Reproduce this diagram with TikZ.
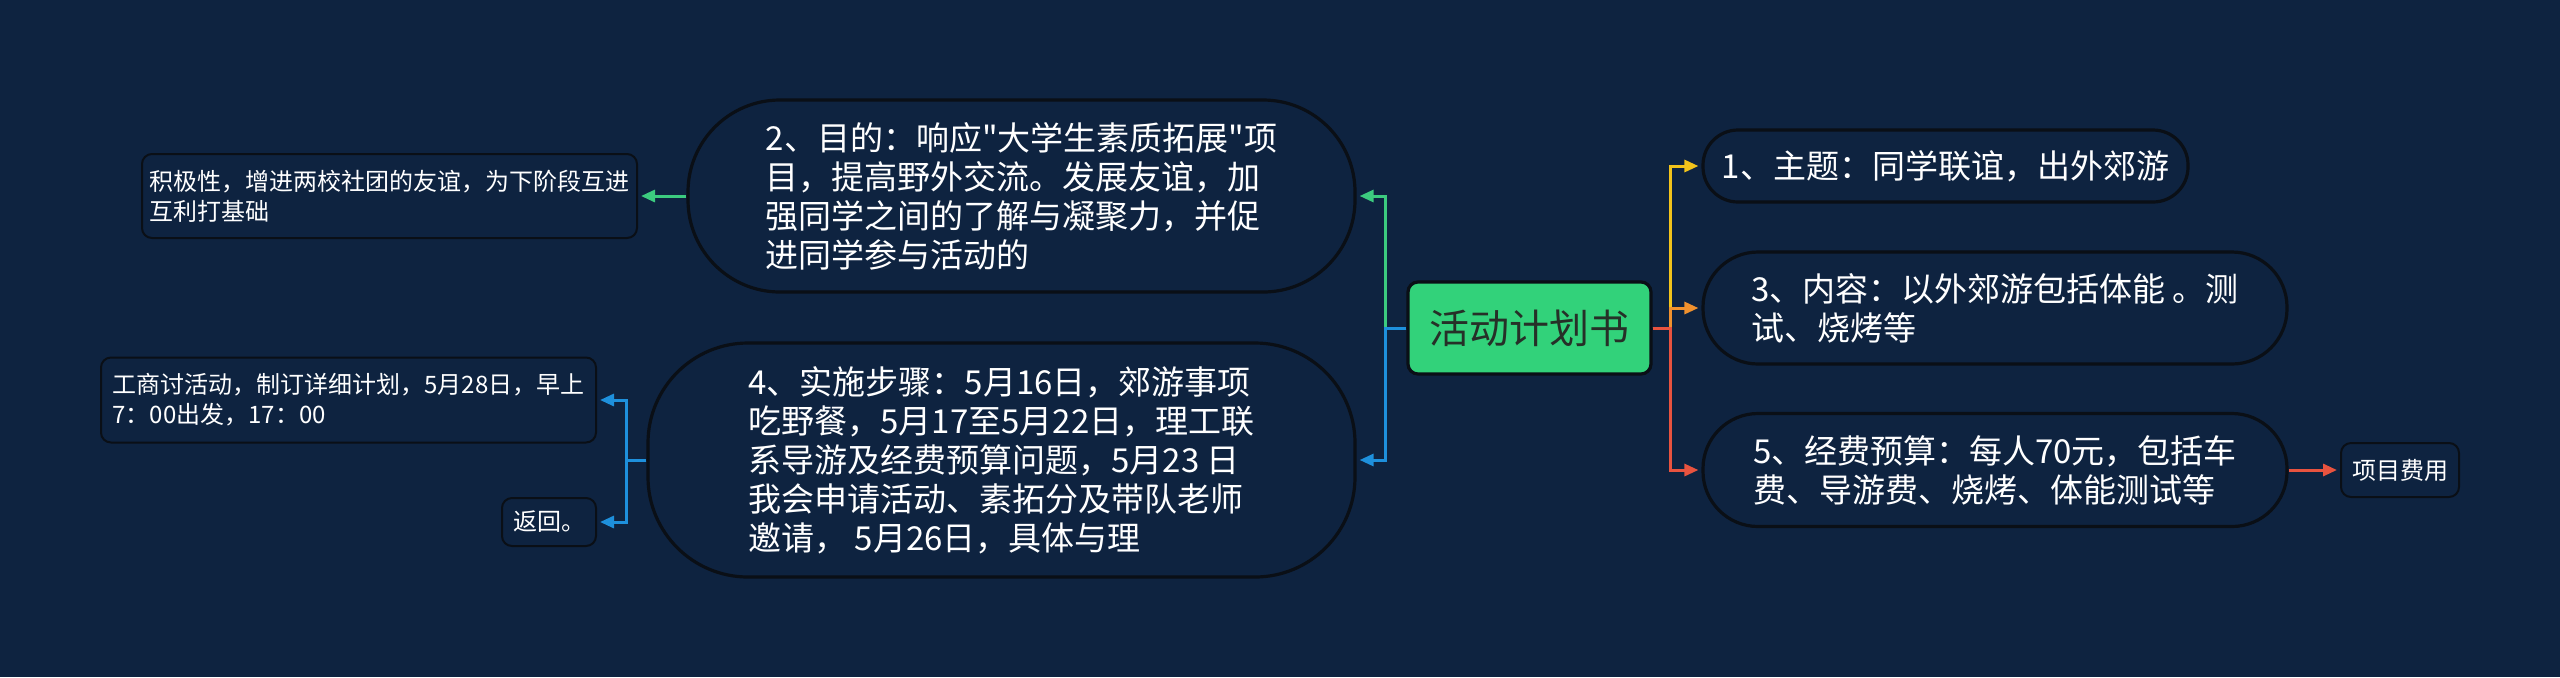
\documentclass[tikz,border=0pt]{standalone}
\usepackage{fontspec}
\newfontfamily\cjk{Noto Sans CJK SC}
\usetikzlibrary{positioning,arrows.meta}

\definecolor{bgnavy}{HTML}{0E2340}
\definecolor{edgeblack}{HTML}{0A0F16}
\definecolor{topicgreen}{HTML}{32D27A}
\definecolor{topictext}{HTML}{263028}
\definecolor{lgreen}{HTML}{3CCB7F}
\definecolor{lblue}{HTML}{1E90DC}
\definecolor{lyellow}{HTML}{F2C31B}
\definecolor{lorange}{HTML}{F0912E}
\definecolor{lred}{HTML}{E8533F}

\begin{document}
\begin{tikzpicture}[x=0.5pt, y=-0.5pt,
    topic/.style={draw=edgeblack, line width=1.6pt, fill=topicgreen, rounded corners=5pt,
                  minimum width=121.5pt, minimum height=46pt, text=topictext,
                  font=\cjk\fontsize{20}{24}\selectfont},
    branch/.style={draw=edgeblack, line width=1.6pt, fill=bgnavy, text=white, align=left,
                   font=\cjk\fontsize{16.5}{19.5}\selectfont},
    leaf/.style={draw=edgeblack, line width=1pt, fill=bgnavy, rounded corners=5pt, text=white,
                 align=left, font=\cjk\fontsize{12}{15}\selectfont},
    link/.style={line width=1.5pt, -{Triangle[length=7pt,width=6pt]}, shorten >=1.5pt}
]

% --- Background ---
\fill[bgnavy] (0,0) rectangle (2560,677);

% --- Central topic ---
\node[topic] (plan) at (1529.5, 328) {活动计划书};

% --- Right branches ---
\node[branch, rounded corners=17.5pt, minimum width=242.5pt, minimum height=36pt]
    (theme) at (1945.5, 166) {1、主题：同学联谊，出外郊游};
\node[branch, rounded corners=27.5pt, minimum width=292pt, minimum height=56pt]
    (content) at (1995, 308) {3、内容：以外郊游包括体能 。测\\试、烧烤等};
\node[branch, rounded corners=27.5pt, minimum width=292pt, minimum height=56.5pt]
    (budget) at (1995, 470) {5、经费预算：每人70元，包括车\\费、导游费、烧烤、体能测试等};

% --- Left branches ---
\node[branch, rounded corners=46pt, minimum width=333.5pt, minimum height=96pt]
    (goal) at (1021.5, 196) {2、目的：响应"大学生素质拓展"项\\目，提高野外交流。发展友谊，加\\强同学之间的了解与凝聚力，并促\\进同学参与活动的};
\node[branch, rounded corners=50pt, minimum width=353.5pt, minimum height=117pt]
    (steps) at (1001.5, 460) {4、实施步骤：5月16日，郊游事项\\吃野餐，5月17至5月22日，理工联\\系导游及经费预算问题，5月23 日\\我会申请活动、素拓分及带队老师\\邀请， 5月26日，具体与理};

% --- Leaves ---
\node[leaf, minimum width=247.5pt, minimum height=42pt]
    (spirit) at (389.5, 196) {积极性，增进两校社团的友谊，为下阶段互进\\互利打基础};
\node[leaf, minimum width=247.5pt, minimum height=42.5pt]
    (meet) at (348.5, 400) {工商讨活动，制订详细计划，5月28日，早上\\7：00出发，17：00};
\node[leaf, minimum width=47pt, minimum height=24pt]
    (back) at (549, 522) {返回。};
\node[leaf, minimum width=59pt, minimum height=27pt]
    (cost) at (2400, 470) {项目费用};

% --- Forks ---
\coordinate (rfork) at ([xshift=9pt]plan.east);
\coordinate (lfork) at ([xshift=-10.5pt]plan.west);
\coordinate (sfork) at ([xshift=-10pt]steps.west);

% --- Connectors ---
\draw[link, lyellow] (plan.east) -- (rfork) |- (theme.west);
\draw[link, lorange] (plan.east) -- (rfork) |- (content.west);
\draw[link, lred] (plan.east) -- (rfork) |- (budget.west);
\draw[link, lgreen] (plan.west) -- (lfork) |- (goal.east);
\draw[link, lblue] (plan.west) -- (lfork) |- (steps.east);

\draw[link, lgreen] (goal.west) -- (spirit.east);
\draw[link, lblue] (steps.west) -- (sfork) |- (meet.east);
\draw[link, lblue] (steps.west) -- (sfork) |- (back.east);
\draw[link, lred] (budget.east) -- (cost.west);

\end{tikzpicture}
\end{document}
